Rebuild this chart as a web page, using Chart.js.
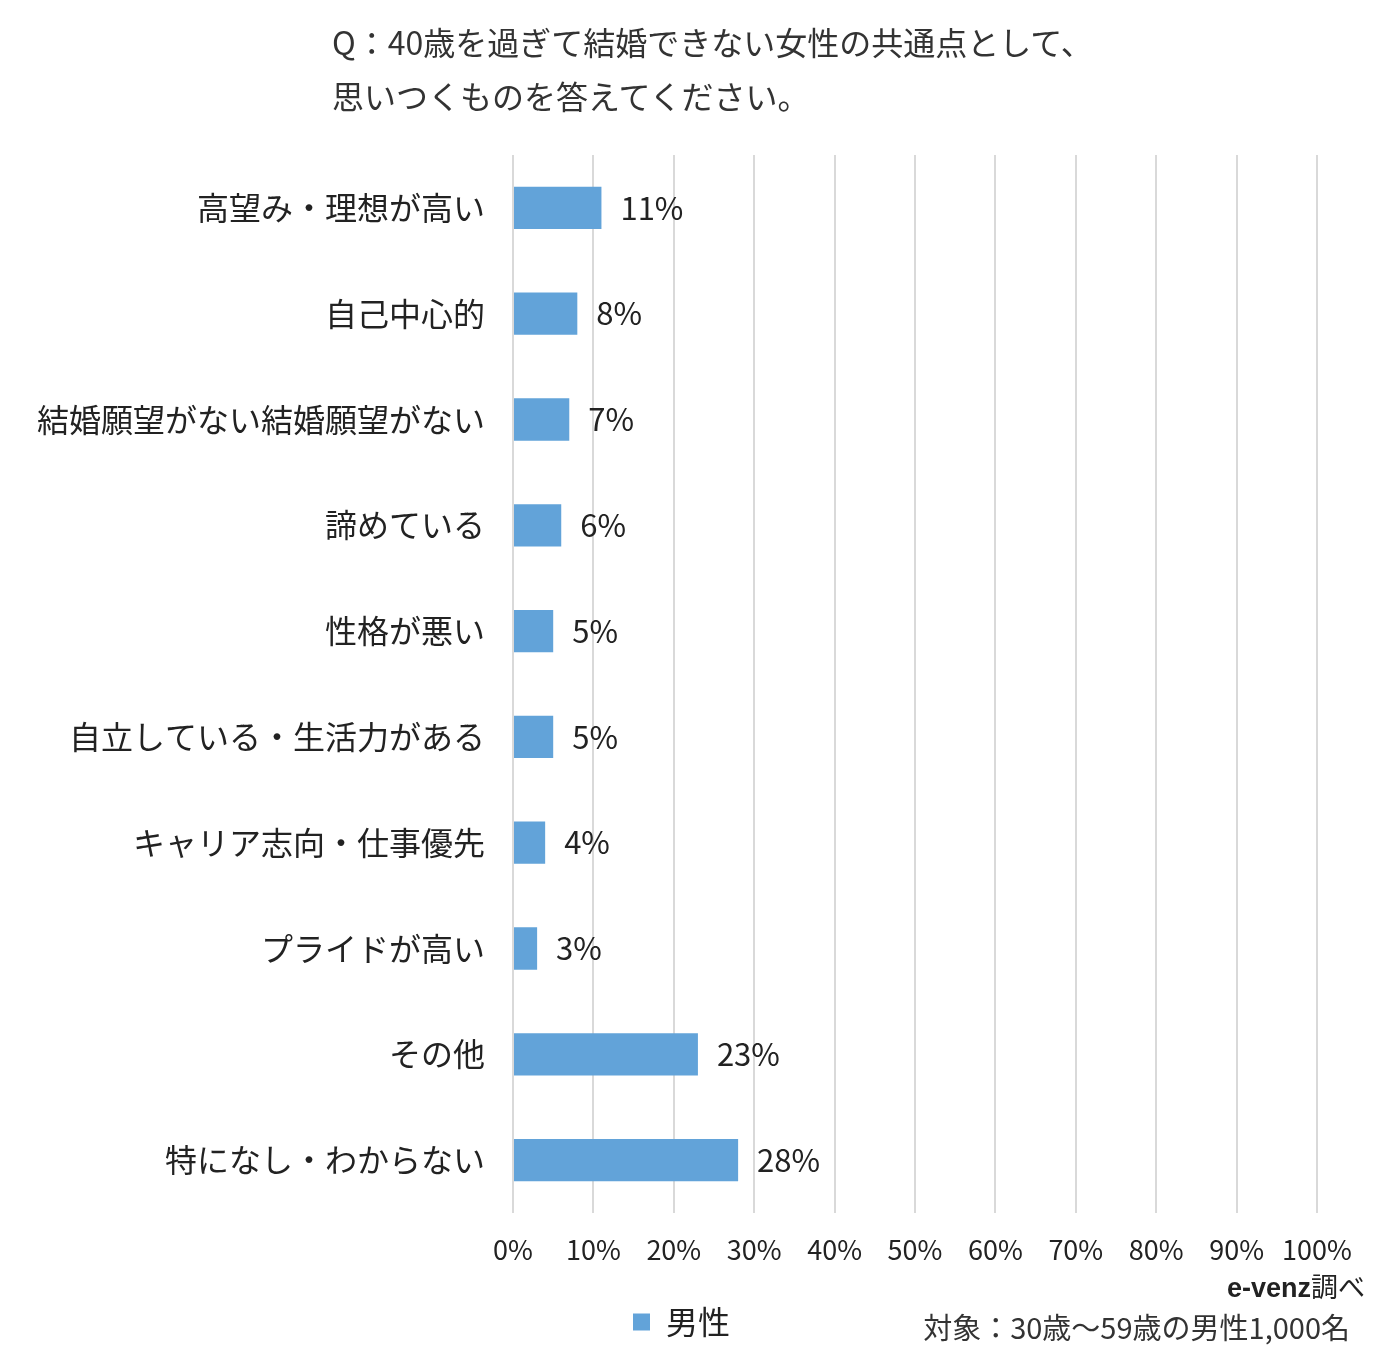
<!DOCTYPE html>
<html lang="ja">
<head>
  <meta charset="UTF-8">
  <title>40歳を過ぎて結婚できない女性の共通点</title>
  <script src="https://cdn.jsdelivr.net/npm/chart.js"></script>
  <style>
    body { margin: 0; background: #fff; font-family: "Noto Sans CJK JP", sans-serif; color: #222; }
    #wrap { position: relative; width: 1378px; height: 1350px; }
    #title { position: absolute; left: 332px; top: 14px; font-size: 32px; line-height: 54px; color: #333; }
    #source { position: absolute; right: 13px; top: 1266px; font-size: 27px; color: #222; }
    #source b { font-family: "Liberation Sans", Arial, sans-serif; }
    #target { position: absolute; right: 28px; top: 1305px; font-size: 29px; color: #333; }
  </style>
</head>
<body>
  <div id="wrap">
    <canvas id="myChart" width="1378" height="1350"></canvas>
    <div id="title">Q：40歳を過ぎて結婚できない女性の共通点として、<br>思いつくものを答えてください。</div>
    <div id="source"><b>e-venz</b>調べ</div>
    <div id="target">対象：30歳～59歳の男性1,000名</div>
  </div>

  <script>
    const categories = [
      "高望み・理想が高い", "自己中心的", "結婚願望がない結婚願望がない", "諦めている", "性格が悪い",
      "自立している・生活力がある", "キャリア志向・仕事優先", "プライドが高い", "その他", "特になし・わからない"
    ];
    const maleValues = [11, 8, 7, 6, 5, 5, 4, 3, 23, 28];
    const xTicks = [0, 10, 20, 30, 40, 50, 60, 70, 80, 90, 100];

    // 棒の右に「11%」などを描く
    const valueLabels = {
      id: "valueLabels",
      afterLayout(chart) {
        // 凡例を少し右へ
        chart.legend.left += 23;
        chart.legend.right += 23;
      },
      afterDatasetsDraw(chart) {
        const ctx = chart.ctx;
        ctx.save();
        ctx.font = "31px 'Noto Sans CJK JP'";
        ctx.fillStyle = "#222";
        ctx.textBaseline = "middle";
        chart.getDatasetMeta(0).data.forEach((bar, i) => {
          ctx.fillText(maleValues[i] + "%", bar.x + 19, bar.y);
        });
        ctx.restore();
      }
    };

    new Chart(document.getElementById("myChart"), {
      type: "bar",
      data: {
        labels: categories,
        datasets: [{
          label: "男性",
          data: maleValues,
          backgroundColor: "#62a3d9",
          borderWidth: 0,
          barPercentage: 0.4,
          categoryPercentage: 1
        }]
      },
      options: {
        indexAxis: "y",
        responsive: false,
        animation: false,
        layout: { padding: { top: 155, right: 61, bottom: 2, left: 0 } },
        scales: {
          x: {
            min: 0, max: 100,
            afterBuildTicks: scale => { scale.ticks = xTicks.map(v => ({ value: v })); },
            afterFit: scale => { scale.height = 83; },
            grid: { color: "#d9d9d9", lineWidth: 2, drawTicks: false },
            border: { display: false },
            ticks: {
              padding: 21,
              color: "#222",
              font: { family: "'Noto Sans CJK JP'", size: 27 },
              callback: v => v + "%"
            }
          },
          y: {
            afterFit: scale => { scale.width = 513; },
            grid: { display: false },
            border: { display: false },
            ticks: {
              padding: 20,
              color: "#222",
              font: { family: "'Noto Sans CJK JP'", size: 32 }
            }
          }
        },
        plugins: {
          legend: {
            position: "bottom",
            labels: {
              boxWidth: 17, boxHeight: 17, padding: 10,
              color: "#222",
              font: { family: "'Noto Sans CJK JP'", size: 32 }
            }
          },
          tooltip: { enabled: false }
        }
      },
      plugins: [valueLabels]
    });
  </script>
</body>
</html>
